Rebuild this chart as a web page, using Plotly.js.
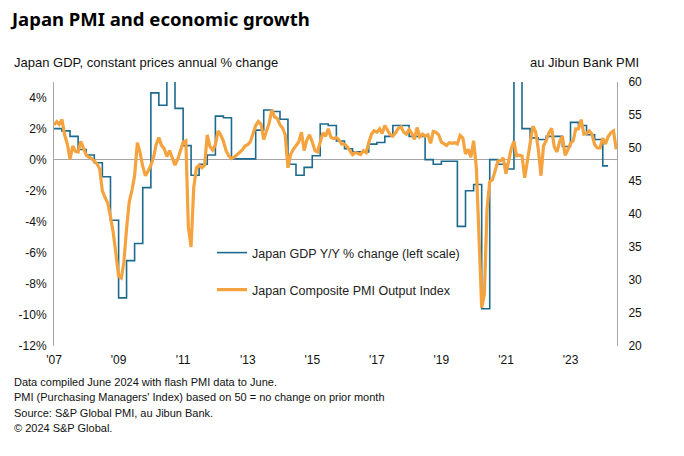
<!DOCTYPE html>
<html>
<head>
<meta charset="utf-8">
<script src="https://cdn.plot.ly/plotly-3.0.1.min.js"></script>
<style>html,body{margin:0;padding:0;background:#fff;}#chart{width:684px;height:456px;}</style>
</head>
<body>
<div id="chart"></div>
<script>
// Monthly Japan Composite PMI Output Index, Jan 2007 – Jun 2024
const pmiStartYear = 2007;
const pmi2007 = [53.5, 54.0, 53.6, 54.3, 52.0, 50.6, 48.3, 50.3, 49.5, 49.4, 51.0, 49.8];
const pmi2008 = [48.9, 48.6, 48.4, 48.0, 47.6, 46.8, 43.5, 42.5, 41.6, 39.6, 37.2, 34.0];
const pmi2009 = [30.6, 30.3, 32.6, 37.8, 41.8, 43.6, 45.8, 50.8, 49.3, 47.2, 45.8, 46.5];
const pmi2010 = [47.4, 48.6, 50.5, 51.6, 50.4, 49.9, 48.7, 49.6, 48.4, 47.4, 48.3, 49.6];
const pmi2011 = [50.9, 51.1, 38.0, 35.0, 44.0, 47.0, 47.4, 47.0, 47.4, 52.0, 50.2, 49.7];
const pmi2012 = [50.5, 52.6, 52.0, 51.0, 49.6, 48.8, 48.4, 48.6, 49.0, 49.3, 49.7, 50.3];
const pmi2013 = [50.5, 51.0, 52.2, 53.4, 54.0, 53.6, 51.3, 52.4, 53.8, 55.8, 54.7, 54.5];
const pmi2014 = [53.5, 53.0, 52.0, 47.0, 49.0, 49.8, 50.3, 50.9, 52.4, 49.6, 51.2, 52.0];
const pmi2015 = [50.9, 49.6, 49.4, 50.9, 52.3, 51.8, 52.9, 51.6, 51.4, 51.6, 51.2, 50.6];
const pmi2016 = [50.6, 50.2, 49.7, 49.0, 49.3, 49.2, 49.0, 49.6, 49.3, 50.8, 52.1, 52.6];
const pmi2017 = [52.4, 52.9, 52.2, 53.4, 52.6, 52.0, 51.8, 52.3, 53.0, 53.2, 52.4, 52.1];
const pmi2018 = [52.8, 52.2, 51.3, 53.1, 51.7, 52.1, 51.8, 52.0, 50.7, 52.5, 52.4, 52.0];
const pmi2019 = [50.9, 50.7, 50.4, 50.8, 50.7, 50.8, 50.6, 51.9, 51.5, 49.1, 49.8, 48.6];
const pmi2020 = [51.1, 47.0, 36.2, 25.8, 27.8, 40.8, 44.9, 45.2, 46.6, 48.0, 48.1, 48.5];
const pmi2021 = [46.1, 48.2, 49.9, 51.0, 48.8, 48.9, 48.8, 45.5, 47.9, 50.7, 53.3, 52.5];
const pmi2022 = [49.9, 45.8, 50.3, 51.1, 52.3, 53.0, 50.2, 49.4, 51.0, 51.8, 48.9, 49.7];
const pmi2023 = [50.7, 51.1, 52.9, 52.9, 54.3, 52.1, 52.2, 52.6, 52.1, 50.5, 50.0, 50.0];
const pmi2024 = [51.5, 50.6, 51.7, 52.3, 52.6, 49.8];

// Quarterly Japan real GDP, % change y/y, 2007Q1 – 2024Q1
const gdpStartYear = 2007;
const gdpQuarterly = [
  2.0, 1.85, 1.5, 0.65,
  0.3, -0.2, -1.1, -3.9,
  -8.9, -6.5, -5.4, -1.8,
  4.3, 3.5, 7.0, 3.3,
  0.9, -1.0, -0.3, 0.3,
  2.8, 2.7, 0.05, 0.05,
  0.05, 1.9, 3.2, 3.1,
  2.6, -0.3, -1.0, -0.5,
  0.25, 2.3, 2.2, 1.2,
  0.7, 0.5, 0.5, 1.0,
  1.1, 1.5, 2.2, 2.2,
  1.5, 1.5, 0.0, -0.3,
  -0.1, -0.1, -4.3, -2.0,
  -1.6, -9.6, 0.0, -0.3,
  -0.6, 7.6, 2.0, 1.4,
  1.3, 1.5, 1.5, 0.85,
  2.4, 2.2, 1.6, 1.3,
  -0.4
];

const xTickYears = ['2007', '2009', '2011', '2013', '2015', '2017', '2019', '2021', '2023'];
const xTickLabels = ["'07", "'09", "'11", "'13", "'15", "'17", "'19", "'21", "'23"];
const leftTicks = [4, 2, 0, -2, -4, -6, -8, -10, -12];
const rightTicks = [60, 55, 50, 45, 40, 35, 30, 25, 20];

const gdpName = 'Japan GDP Y/Y % change (left scale)';
const pmiName = 'Japan Composite PMI Output Index';
const footnotes = [
  'Data compiled June 2024 with flash PMI data to June.',
  "PMI (Purchasing Managers' Index) based on 50 = no change on prior month",
  'Source: S&P Global PMI, au Jibun Bank.',
  '© 2024 S&P Global.'
];

function monthDate(startYear, i) {
  const y = startYear + Math.floor(i / 12);
  const m = (i % 12) + 1;
  return y + '-' + String(m).padStart(2, '0') + '-01';
}

const pmi = [].concat(pmi2007, pmi2008, pmi2009, pmi2010, pmi2011, pmi2012, pmi2013, pmi2014,
  pmi2015, pmi2016, pmi2017, pmi2018, pmi2019, pmi2020, pmi2021, pmi2022, pmi2023, pmi2024);
const pmiX = pmi.map((v, i) => monthDate(pmiStartYear, i));

// GDP quarterly value held for each month of its quarter
const gdpX = [], gdpY = [];
gdpQuarterly.forEach((v, q) => {
  for (let k = 0; k < 3; k++) { gdpX.push(monthDate(gdpStartYear, q * 3 + k)); gdpY.push(v); }
});

const FONT = 'Liberation Sans, Arial, sans-serif';
const W = 684, H = 456;
const L = 54, R = 617, T = 82, B = 346;
const px = x => (x - L) / (R - L);
const py = y => (B - y) / (B - T);

const traces = [
  { x: gdpX, y: gdpY, type: 'scatter', mode: 'lines', name: gdpName, yaxis: 'y',
    line: { color: '#1c6a8d', width: 1.6, shape: 'hv' }, legend: 'legend' },
  { x: pmiX, y: pmi, type: 'scatter', mode: 'lines', name: pmiName, yaxis: 'y2',
    line: { color: '#f5a33e', width: 3.2 }, legend: 'legend2' }
];

const ann = [
  { text: 'Japan GDP, constant prices annual % change', x: px(12), y: py(62), xanchor: 'left', yanchor: 'middle', size: 13 },
  { text: 'au Jibun Bank PMI', x: px(641), y: py(62), xanchor: 'right', yanchor: 'middle', size: 13 }
];
const footY = [382, 397, 413, 428];
footnotes.forEach((t, i) => ann.push({ text: t, x: px(12), y: py(footY[i]), xanchor: 'left', yanchor: 'middle', size: 11 }));

const layout = {
  width: W, height: H,
  margin: { l: L, r: W - R, t: T, b: H - B, pad: 0 },
  paper_bgcolor: '#fff', plot_bgcolor: '#fff',
  showlegend: true,
  title: { text: '<b>Japan PMI and economic growth</b>', font: { family: 'Noto Sans, sans-serif', size: 18.5, color: '#000' },
    xref: 'container', yref: 'container', x: 12 / W, xanchor: 'left', y: 1 - 20 / H, yanchor: 'middle' },
  xaxis: {
    type: 'date', range: ['2007-01-01', '2024-06-10'],
    tickvals: xTickYears.map(y => y + '-01-01'), ticktext: xTickLabels,
    showgrid: false, zeroline: false, showline: false, ticks: '',
    tickfont: { family: FONT, size: 12, color: '#111' }, ticklabelstandoff: 5
  },
  yaxis: {
    range: [-12, 5], tickvals: leftTicks, ticktext: leftTicks.map(v => v + '%'),
    showgrid: false, zeroline: true, zerolinecolor: '#a6a6a6', zerolinewidth: 1,
    showline: true, linecolor: '#a6a6a6', linewidth: 1, ticks: '',
    tickfont: { family: FONT, size: 12, color: '#111' }, ticklabelstandoff: 4
  },
  yaxis2: {
    range: [20, 60], tickvals: rightTicks, overlaying: 'y', side: 'right',
    showgrid: false, zeroline: false, showline: true, linecolor: '#a6a6a6', linewidth: 1, ticks: '',
    tickfont: { family: FONT, size: 12, color: '#111' }, ticklabelstandoff: 8
  },
  legend: { x: px(212), y: py(253), xanchor: 'left', yanchor: 'middle', bgcolor: 'rgba(0,0,0,0)',
    font: { family: FONT, size: 12.5, color: '#222' }, itemwidth: 30 },
  legend2: { x: px(212), y: py(290), xanchor: 'left', yanchor: 'middle', bgcolor: 'rgba(0,0,0,0)',
    font: { family: FONT, size: 12.5, color: '#222' }, itemwidth: 30 },
  annotations: ann.map(a => ({ text: a.text, x: a.x, y: a.y, xref: 'paper', yref: 'paper', xanchor: a.xanchor, yanchor: a.yanchor,
    showarrow: false, font: { family: FONT, size: a.size, color: '#111' } }))
};

Plotly.newPlot('chart', traces, layout, { displayModeBar: false, staticPlot: true });
</script>
</body>
</html>
